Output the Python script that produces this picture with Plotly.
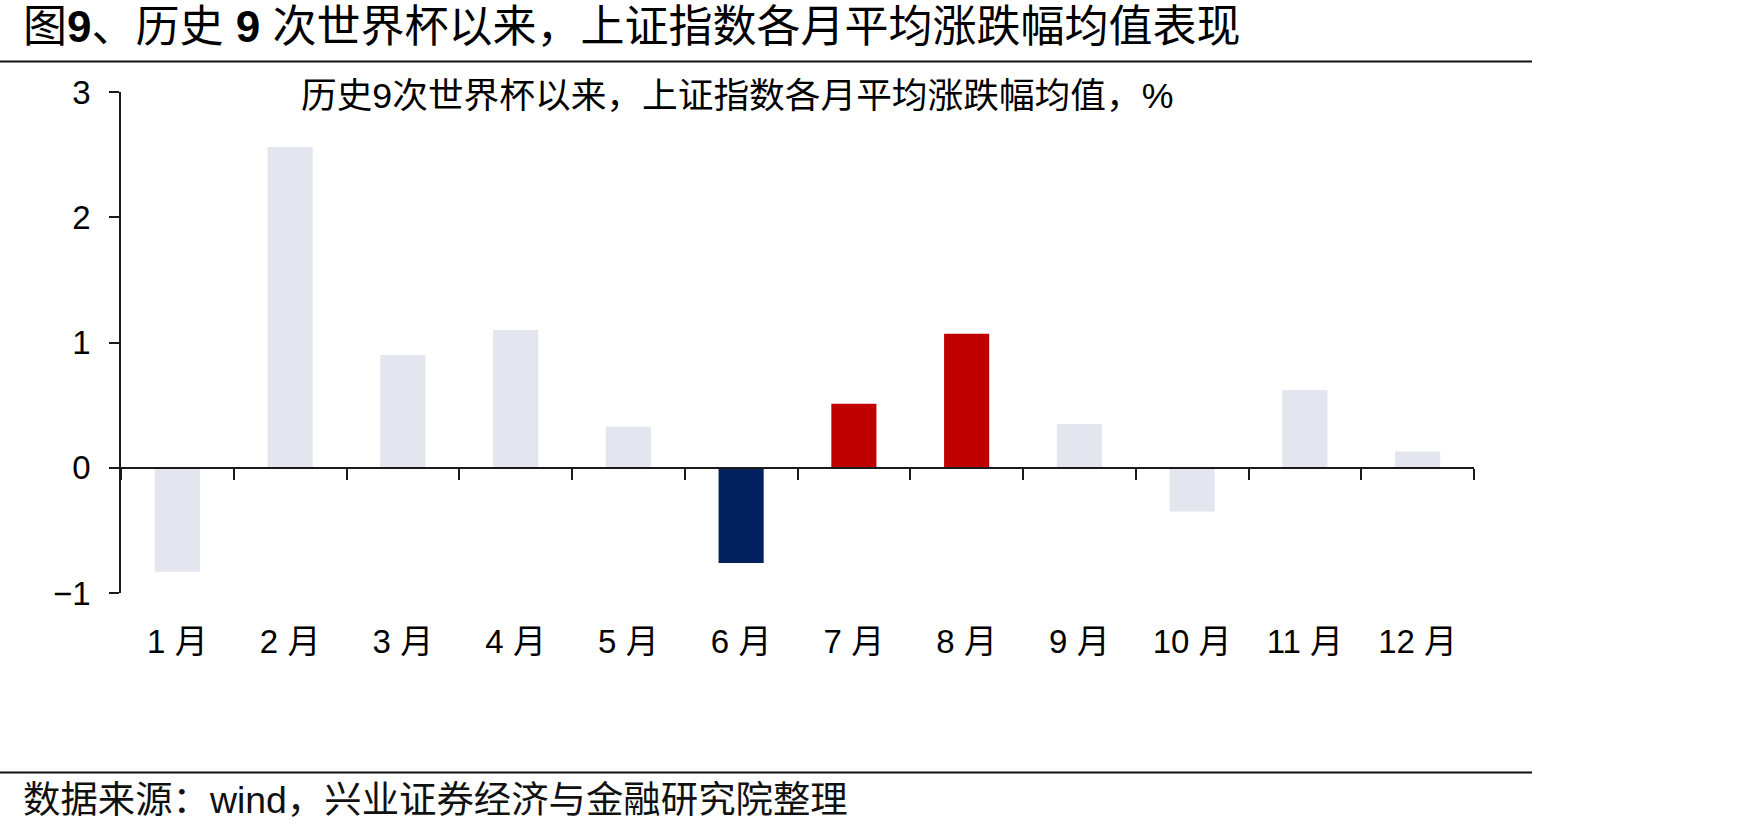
import plotly.graph_objects as go

# ---- data ----
months = ["1 月", "2 月", "3 月", "4 月", "5 月", "6 月",
          "7 月", "8 月", "9 月", "10 月", "11 月", "12 月"]
avg_change = [-0.83, 2.56, 0.90, 1.10, 0.33, -0.76,
              0.51, 1.07, 0.35, -0.35, 0.62, 0.13]
bar_colors = ["#E3E6EE", "#E3E6EE", "#E3E6EE", "#E3E6EE", "#E3E6EE", "#03215F",
              "#C00000", "#C00000", "#E3E6EE", "#E3E6EE", "#E3E6EE", "#E3E6EE"]
y_ticks = [-1, 0, 1, 2, 3]

title_text = "图<b>9</b>、历史 <b>9</b> 次世界杯以来，上证指数各月平均涨跌幅均值表现"
subtitle_text = "历史9次世界杯以来，上证指数各月平均涨跌幅均值，%"
source_text = "数据来源：wind，兴业证券经济与金融研究院整理"

# ---- layout geometry (pixels) ----
W, H = 1748, 834
L, R, T, B = 121, 1474, 92, 593
FONT = "Liberation Sans, Arial, Noto Sans CJK SC, sans-serif"


def px_x(px):
    return (px - L) / (R - L)


def px_y(py):
    return (B - py) / (B - T)


ymin, ymax = -1, 3
zero_pos = (0 - ymin) / (ymax - ymin)

fig = go.Figure()
fig.add_trace(go.Bar(
    x=months, y=avg_change, marker=dict(color=bar_colors, line=dict(width=0)),
    width=0.4, xaxis="x", yaxis="y", showlegend=False, hoverinfo="x+y",
))
# invisible helper trace so that the label axis has the categories
fig.add_trace(go.Scatter(
    x=months, y=avg_change, xaxis="x2", yaxis="y", mode="markers",
    marker=dict(opacity=0), showlegend=False, hoverinfo="skip",
))

fig.update_layout(
    width=W, height=H,
    margin=dict(l=L, r=W - R, t=T, b=H - B, pad=0),
    paper_bgcolor="white", plot_bgcolor="white",
    font=dict(family=FONT, color="#000000"),
    bargap=0.6,
    xaxis=dict(
        type="category", categoryorder="array", categoryarray=months,
        range=[-0.5, len(months) - 0.5],
        anchor="free", position=zero_pos,
        showline=True, linecolor="#1a1a1a", linewidth=2,
        ticks="outside", tickson="boundaries", ticklen=11, tickwidth=2,
        tickcolor="#1a1a1a",
        showticklabels=False, showgrid=False, zeroline=False,
    ),
    xaxis2=dict(
        type="category", categoryorder="array", categoryarray=months,
        range=[-0.5, len(months) - 0.5],
        overlaying="x", anchor="y", side="bottom",
        showline=False, ticks="", showgrid=False, zeroline=False,
        tickfont=dict(size=33, family=FONT, color="#000000"),
        ticklabelstandoff=26,
    ),
    yaxis=dict(
        range=[ymin, ymax], tickvals=y_ticks,
        showline=True, linecolor="#1a1a1a", linewidth=1.5,
        ticks="outside", ticklen=10, tickwidth=1.5, tickcolor="#1a1a1a",
        showgrid=False, zeroline=False,
        tickfont=dict(size=33, family=FONT, color="#000000"),
        ticklabelstandoff=12,
    ),
    shapes=[
        dict(type="line", xref="paper", yref="paper",
             x0=px_x(0), x1=px_x(1532), y0=px_y(61.5), y1=px_y(61.5),
             line=dict(color="#111111", width=2)),
        dict(type="line", xref="paper", yref="paper",
             x0=px_x(0), x1=px_x(1532), y0=px_y(772.5), y1=px_y(772.5),
             line=dict(color="#111111", width=2)),
    ],
    annotations=[
        dict(text=title_text, xref="paper", yref="paper",
             x=px_x(21), y=px_y(27), xanchor="left", yanchor="middle",
             showarrow=False, font=dict(size=44, family=FONT, color="#000000")),
        dict(text=subtitle_text, xref="paper", yref="paper",
             x=px_x(299), y=px_y(96), xanchor="left", yanchor="middle",
             showarrow=False, font=dict(size=35.7, family=FONT, color="#000000")),
        dict(text=source_text, xref="paper", yref="paper",
             x=px_x(21), y=px_y(800), xanchor="left", yanchor="middle",
             showarrow=False, font=dict(size=37.4, family=FONT, color="#111111")),
    ],
)

fig.write_html("out.html")
